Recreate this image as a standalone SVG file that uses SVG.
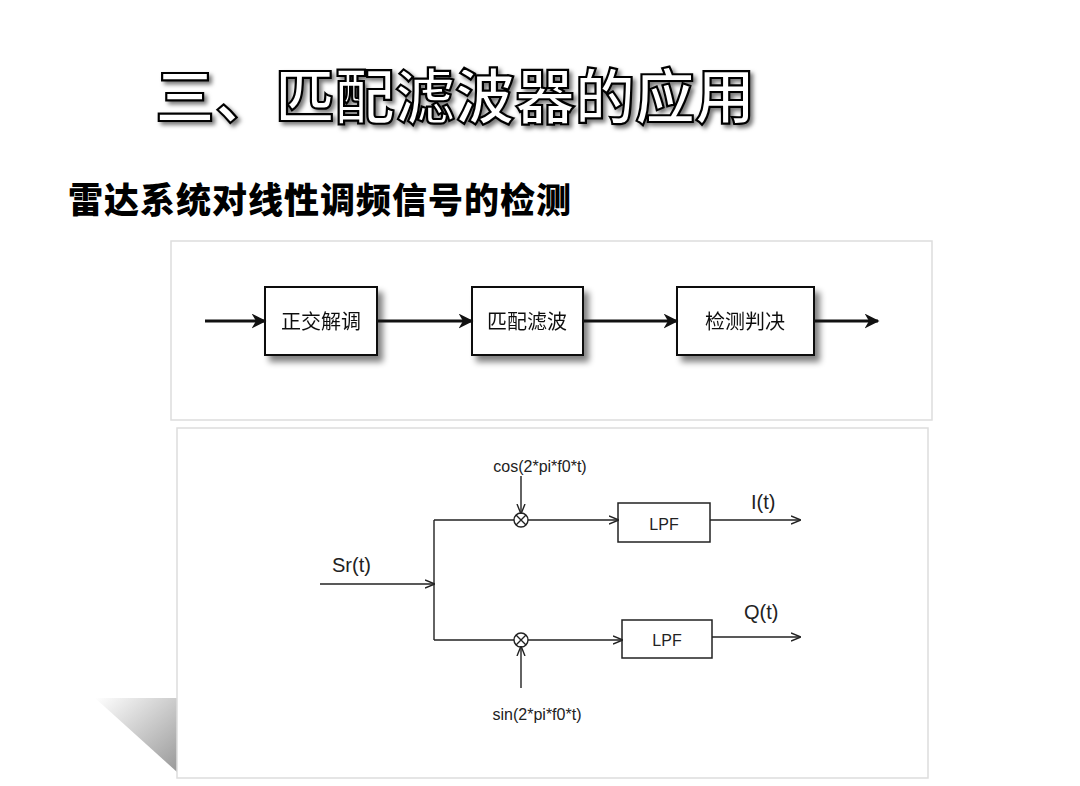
<svg xmlns="http://www.w3.org/2000/svg" width="1080" height="786" viewBox="0 0 1080 786">
<defs>
<marker id="ab" viewBox="0 0 10 10" refX="9" refY="5" markerWidth="5" markerHeight="5" orient="auto"><path d="M0,0L10,5L0,10L3,5z" fill="#111"/></marker>
<marker id="as" viewBox="0 0 10 10" refX="9" refY="5" markerWidth="10" markerHeight="10" orient="auto" markerUnits="userSpaceOnUse"><path d="M0,1L10,5L0,9" fill="none" stroke="#222" stroke-width="1.4"/></marker>
<linearGradient id="sh" x1="0" y1="0" x2="1" y2="1"><stop offset="0" stop-color="#fff"/><stop offset="1" stop-color="#999"/></linearGradient>
<filter id="ds" x="-20%" y="-20%" width="150%" height="150%"><feGaussianBlur in="SourceAlpha" stdDeviation="3"/><feOffset dx="5" dy="6"/><feComponentTransfer><feFuncA type="linear" slope="0.5"/></feComponentTransfer><feMerge><feMergeNode/><feMergeNode in="SourceGraphic"/></feMerge></filter>
</defs>
<style>
.t1{font-family:"Noto Sans CJK SC",sans-serif;font-weight:bold;font-size:60px;fill:#fff;stroke:#000;stroke-width:2.2}
.t2{font-family:"Noto Sans CJK SC",sans-serif;font-weight:900;font-size:35px;letter-spacing:1px;fill:#000}
.bx{fill:#fff;stroke:#111;stroke-width:2}
.bl{font-family:"Noto Sans CJK SC",sans-serif;font-size:20px;fill:#111;text-anchor:middle}
.ln{stroke:#111;stroke-width:3;fill:none}
.th{stroke:#222;stroke-width:1.4;fill:none}
.lb{font-family:"Liberation Sans",sans-serif;fill:#222}
</style>
<rect width="1080" height="786" fill="#fff"/>
<text class="t1" x="155" y="119" style="filter:drop-shadow(3px 3px 2px #777)">三、匹配滤波器的应用</text>
<text class="t2" x="68" y="213">雷达系统对线性调频信号的检测</text>
<polygon points="95,698 177,698 177,772" fill="url(#sh)"/>
<rect x="171" y="241" width="761" height="179" fill="#fff" stroke="#ddd" stroke-width="1.5"/>
<rect x="177" y="428" width="751" height="350" fill="#fff" stroke="#ddd" stroke-width="1.5"/>
<g id="n1" filter="url(#ds)"><rect class="bx" x="265" y="287" width="112" height="68"/><text class="bl" x="321" y="329">正交解调</text></g>
<g id="n2" filter="url(#ds)"><rect class="bx" x="472" y="287" width="111" height="68"/><text class="bl" x="527" y="329">匹配滤波</text></g>
<g id="n3" filter="url(#ds)"><rect class="bx" x="677" y="287" width="137" height="68"/><text class="bl" x="745" y="329">检测判决</text></g>
<g id="m1"><circle cx="521" cy="520" r="7" class="th"/><path d="M516,515L526,525M526,515L516,525" class="th"/></g>
<g id="m2"><circle cx="521" cy="640" r="7" class="th"/><path d="M516,635L526,645M526,635L516,645" class="th"/></g>
<g id="lpf1"><rect x="618" y="503" width="92" height="39" fill="#fff" stroke="#222" stroke-width="1.5"/><text class="lb" x="664" y="530" font-size="16" text-anchor="middle">LPF</text></g>
<g id="lpf2"><rect x="622" y="620" width="90" height="38" fill="#fff" stroke="#222" stroke-width="1.5"/><text class="lb" x="667" y="646" font-size="16" text-anchor="middle">LPF</text></g>
<g id="connectors">
<path class="ln" d="M205,321H265" marker-end="url(#ab)"/>
<path class="ln" d="M377,321H472" marker-end="url(#ab)"/>
<path class="ln" d="M583,321H677" marker-end="url(#ab)"/>
<path class="ln" d="M814,321H878" marker-end="url(#ab)"/>
<path class="th" d="M320,584H434" marker-end="url(#as)"/>
<path class="th" d="M434,520V640"/>
<path class="th" d="M434,520H514"/>
<path class="th" d="M434,640H514"/>
<path class="th" d="M528,520H618" marker-end="url(#as)"/>
<path class="th" d="M528,640H622" marker-end="url(#as)"/>
<path class="th" d="M710,520H800" marker-end="url(#as)"/>
<path class="th" d="M712,637H800" marker-end="url(#as)"/>
<path class="th" d="M521,476V513" marker-end="url(#as)"/>
<path class="th" d="M521,688V647" marker-end="url(#as)"/>
</g>
<text class="lb" x="540" y="472" font-size="16" text-anchor="middle">cos(2*pi*f0*t)</text>
<text class="lb" x="537" y="720" font-size="16" text-anchor="middle">sin(2*pi*f0*t)</text>
<text class="lb" x="332" y="572" font-size="20">Sr(t)</text>
<text class="lb" x="751" y="509" font-size="20">I(t)</text>
<text class="lb" x="744" y="619" font-size="20">Q(t)</text>
</svg>
